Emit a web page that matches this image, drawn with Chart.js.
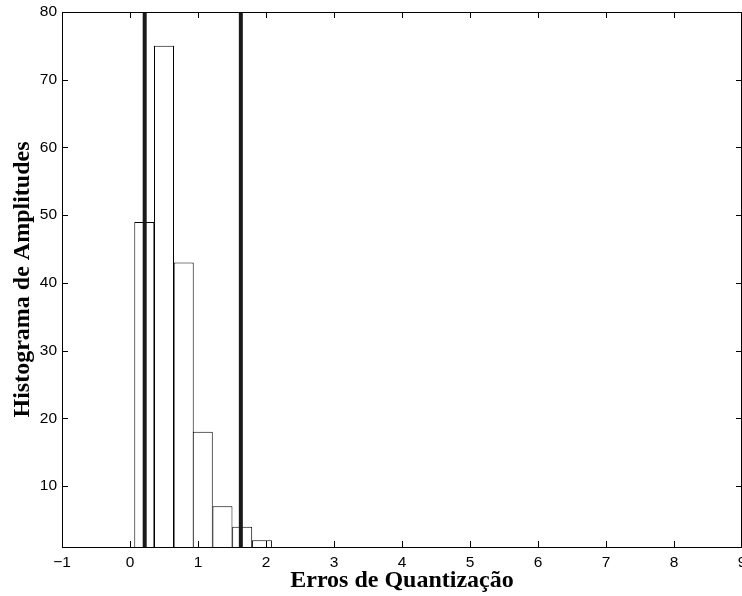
<!DOCTYPE html>
<html lang="pt">
<head>
    <meta charset="UTF-8">
    <title>Histograma de Amplitudes</title>
    <script src="https://cdn.jsdelivr.net/npm/chart.js@4/dist/chart.umd.min.js"></script>
    <style>
        body { margin: 0; background: #fff; }
        canvas { display: block; }
    </style>
</head>
<body>
    <canvas id="histChart" width="742" height="596"></canvas>

    <script>
        // histogram bins (centres) and counts
        const binCenters = [0.21, 0.50, 0.79, 1.07, 1.36, 1.65, 1.94];
        const counts = [49, 75, 43, 18, 7, 4, 2];
        // the two thick vertical markers
        const markerX = [0.216, 1.63];
        const xTicks = [-1, 0, 1, 2, 3, 4, 5, 6, 7, 8, 9];
        const yTicks = [10, 20, 30, 40, 50, 60, 70, 80];
        const yMin = 1, yMax = 80;

        const tickFont = { family: 'Liberation Sans', size: 15.5 };
        const titleFont = { family: 'Liberation Serif', size: 24, weight: 'bold' };

        // box around the plot with inward tick marks on all four sides
        const framePlugin = {
            id: 'frame',
            afterDraw(chart) {
                const { ctx, chartArea: a, scales } = chart;
                ctx.save();
                ctx.strokeStyle = '#000';
                ctx.lineWidth = 1;
                ctx.strokeRect(a.left + 0.5, a.top + 0.5, a.right - a.left - 1, a.bottom - a.top);
                ctx.beginPath();
                xTicks.forEach(v => {
                    const px = Math.round(scales.x.getPixelForValue(v)) + 0.5;
                    ctx.moveTo(px, a.bottom); ctx.lineTo(px, a.bottom - 6);
                    ctx.moveTo(px, a.top); ctx.lineTo(px, a.top + 6);
                });
                yTicks.forEach(v => {
                    const py = Math.round(scales.y.getPixelForValue(v)) + 0.5;
                    ctx.moveTo(a.left, py); ctx.lineTo(a.left + 6, py);
                    ctx.moveTo(a.right, py); ctx.lineTo(a.right - 6, py);
                });
                ctx.stroke();
                ctx.restore();
            }
        };

        const datasets = [{
            type: 'bar',
            data: binCenters.map((x, i) => ({ x: x, y: counts[i] })),
            backgroundColor: '#fff',
            borderColor: '#000',
            borderWidth: 1,
            borderSkipped: false,
            barPercentage: 1.05,
            categoryPercentage: 1,
            clip: 0,
            order: 2
        }];
        markerX.forEach(x => {
            datasets.push({
                type: 'line',
                data: [{ x: x, y: yMin }, { x: x, y: yMax }],
                borderColor: '#1a1a1a',
                borderWidth: 4,
                pointRadius: 0,
                clip: 0,
                order: 1
            });
        });

        new Chart(document.getElementById('histChart'), {
            type: 'bar',
            data: { datasets: datasets },
            options: {
                responsive: false,
                animation: false,
                layout: { padding: { top: 12, right: 0, left: 0, bottom: 0 } },
                plugins: { legend: { display: false }, tooltip: { enabled: false } },
                scales: {
                    x: {
                        type: 'linear',
                        min: -1,
                        max: 9,
                        offset: false,
                        grid: { display: false, drawTicks: false, offset: false },
                        border: { display: false },
                        afterBuildTicks: s => { s.ticks = xTicks.map(v => ({ value: v })); },
                        ticks: {
                            padding: 6,
                            color: '#000',
                            font: tickFont,
                            maxRotation: 0,
                            autoSkip: false,
                            callback: v => v < 0 ? '\u2212' + Math.abs(v) : String(v)
                        },
                        title: {
                            display: true,
                            text: 'Erros de Quantização',
                            color: '#000',
                            font: titleFont,
                            padding: { top: 0, bottom: 1 }
                        },
                        afterFit: s => { s.height = 49; s.paddingLeft = 0; s.paddingRight = 0; }
                    },
                    y: {
                        min: yMin,
                        max: yMax,
                        grid: { display: false, drawTicks: false },
                        border: { display: false },
                        afterBuildTicks: s => { s.ticks = yTicks.map(v => ({ value: v })); },
                        ticks: { padding: 5, color: '#000', font: tickFont },
                        title: {
                            display: true,
                            text: 'Histograma de Amplitudes',
                            color: '#000',
                            font: titleFont,
                            padding: { top: 8, bottom: 0 }
                        },
                        afterFit: s => { s.width = 62; s.paddingTop = 0; s.paddingBottom = 0; }
                    }
                }
            },
            plugins: [framePlugin]
        });
    </script>
</body>
</html>
